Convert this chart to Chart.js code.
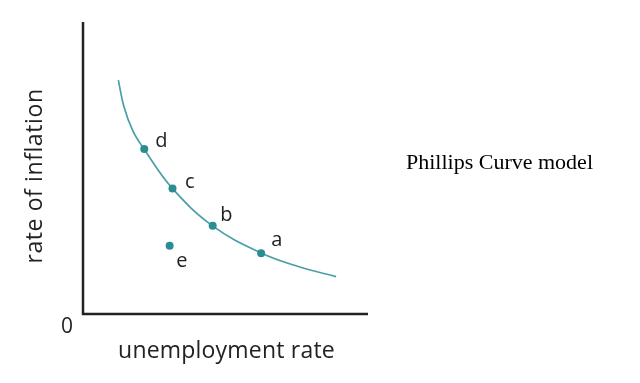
<!DOCTYPE html>
<html>
<head>
<meta charset="utf-8">
<script src="https://cdn.jsdelivr.net/npm/chart.js@4/dist/chart.umd.min.js"></script>
<style>
  html, body { margin: 0; padding: 0; background: #ffffff; }
  #wrap { position: relative; width: 640px; height: 383px; }
  #side { position: absolute; left: 406px; top: 151px; font-family: "Liberation Serif", "Times New Roman", serif; font-size: 22px; color: #000; white-space: nowrap; line-height: 1; }
</style>
</head>
<body>
<div id="wrap">
  <canvas id="c" width="640" height="383"></canvas>
  <div id="side">Phillips Curve model</div>
</div>
<script>
// Phillips curve
const curveX = [1.24, 1.44, 1.75, 2.14, 3.12, 4.56, 6.25, 7.61, 8.88];
const curveY = [8.01, 7.09, 6.27, 5.65, 4.32, 3.01, 2.09, 1.61, 1.28];
// Labelled points
const pointLabels = ['d', 'c', 'b', 'a', 'e'];
const pointX = [2.15, 3.14, 4.55, 6.25, 3.04];
const pointY = [5.65, 4.30, 3.02, 2.08, 2.34];
// Axis text
const xTitle = 'unemployment rate';
const yTitle = 'rate of inflation';
const originLabel = '0';

const curveData = curveX.map((x, i) => ({ x: x, y: curveY[i] }));
const pointData = pointX.map((x, i) => ({ x: x, y: pointY[i] }));

const labelOffsets = { d: [11, -2], c: [12.5, 0], b: [7.5, -5], a: [10, -7], e: [6.5, 21] };

const FONT = '"Open Sans", "DejaVu Sans", sans-serif';

const decor = {
  id: 'decor',
  afterDatasetsDraw(chart) {
    const ctx = chart.ctx;
    const xs = chart.scales.x, ys = chart.scales.y;
    const x0 = xs.getPixelForValue(0), y0 = ys.getPixelForValue(0);
    const xr = xs.getPixelForValue(xs.max), yt = ys.getPixelForValue(ys.max);
    ctx.save();
    // axes
    ctx.strokeStyle = '#222222';
    ctx.lineWidth = 2.5;
    ctx.beginPath();
    ctx.moveTo(x0, yt);
    ctx.lineTo(x0, y0);
    ctx.lineTo(xr, y0);
    ctx.stroke();
    // point labels
    ctx.fillStyle = '#222222';
    ctx.font = '20px ' + FONT;
    ctx.textAlign = 'left';
    ctx.textBaseline = 'alphabetic';
    pointLabels.forEach((lab, i) => {
      const px = xs.getPixelForValue(pointX[i]);
      const py = ys.getPixelForValue(pointY[i]);
      const off = labelOffsets[lab];
      ctx.fillText(lab, px + off[0], py + off[1]);
    });
    // origin
    ctx.font = '21px ' + FONT;
    ctx.textAlign = 'center';
    ctx.fillText(originLabel, x0 - 16, y0 + 19);
    // x title
    ctx.font = '23px ' + FONT;
    ctx.letterSpacing = '0.2px';
    ctx.textAlign = 'center';
    ctx.fillText(xTitle, (x0 + xr) / 2 + 1, y0 + 44);
    // y title
    ctx.letterSpacing = '0.6px';
    ctx.translate(x0 - 41, (yt + y0) / 2 + 8);
    ctx.rotate(-Math.PI / 2);
    ctx.fillText(yTitle, 0, 0);
    ctx.restore();
  }
};

new Chart(document.getElementById('c'), {
  type: 'scatter',
  data: {
    datasets: [
      {
        type: 'line',
        data: curveData,
        borderColor: '#4a9fa6',
        borderWidth: 1.7,
        pointRadius: 0,
        fill: false,
        tension: 0.4,
        order: 2
      },
      {
        type: 'scatter',
        data: pointData,
        backgroundColor: '#2b8c93',
        borderColor: '#2b8c93',
        borderWidth: 0,
        pointRadius: 4,
        order: 1
      }
    ]
  },
  options: {
    responsive: false,
    animation: false,
    events: [],
    layout: { padding: { left: 83, top: 22, right: 272, bottom: 69 } },
    plugins: { legend: { display: false }, tooltip: { enabled: false }, title: { display: false } },
    scales: {
      x: { type: 'linear', min: 0, max: 10, display: false },
      y: { type: 'linear', min: 0, max: 10, display: false }
    }
  },
  plugins: [decor]
});
</script>
</body>
</html>
